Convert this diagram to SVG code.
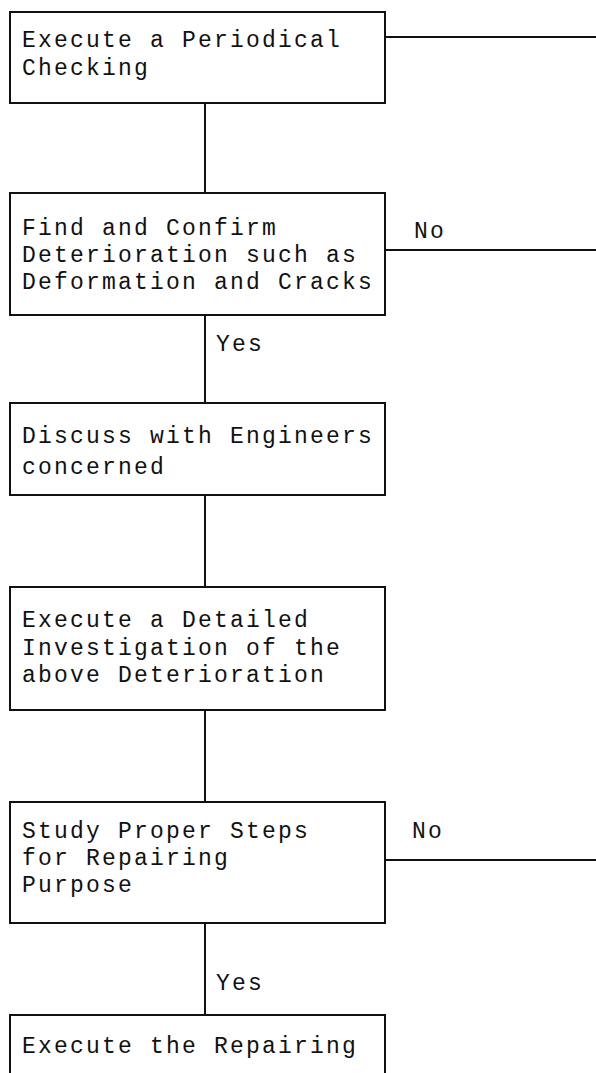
<svg xmlns="http://www.w3.org/2000/svg" width="596" height="1073" viewBox="0 0 596 1073">
  <style>
    .box { fill: #fff; stroke: #111; stroke-width: 2; }
    .wire { fill: none; stroke: #111; stroke-width: 2; }
    .t { font-family: "Liberation Mono", "Courier New", monospace; font-size: 23px; letter-spacing: 2.2px; fill: #111; }
  </style>
  <rect width="596" height="1073" fill="#fff"/>

  <!-- connectors -->
  <g id="connectors">
    <line class="wire" x1="385" y1="37" x2="596" y2="37"/>
    <line class="wire" x1="205" y1="103" x2="205" y2="193"/>
    <line class="wire" x1="385" y1="250" x2="596" y2="250"/>
    <line class="wire" x1="205" y1="315" x2="205" y2="403"/>
    <line class="wire" x1="205" y1="495" x2="205" y2="587"/>
    <line class="wire" x1="205" y1="710" x2="205" y2="802"/>
    <line class="wire" x1="385" y1="860" x2="596" y2="860"/>
    <line class="wire" x1="205" y1="923" x2="205" y2="1015"/>
    <text class="t" x="414" y="238">No</text>
    <text class="t" x="216" y="351">Yes</text>
    <text class="t" x="412" y="838">No</text>
    <text class="t" x="216" y="990">Yes</text>
  </g>

  <g id="periodical-checking">
    <rect class="box" x="10" y="12" width="375" height="91"/>
    <text class="t" x="22" y="47">Execute a Periodical</text>
    <text class="t" x="22" y="75">Checking</text>
  </g>

  <g id="find-deterioration">
    <rect class="box" x="10" y="193" width="375" height="122"/>
    <text class="t" x="22" y="235">Find and Confirm</text>
    <text class="t" x="22" y="262">Deterioration such as</text>
    <text class="t" x="22" y="289">Deformation and Cracks</text>
  </g>

  <g id="discuss-engineers">
    <rect class="box" x="10" y="403" width="375" height="92"/>
    <text class="t" x="22" y="443">Discuss with Engineers</text>
    <text class="t" x="22" y="474">concerned</text>
  </g>

  <g id="detailed-investigation">
    <rect class="box" x="10" y="587" width="375" height="123"/>
    <text class="t" x="22" y="627">Execute a Detailed</text>
    <text class="t" x="22" y="655">Investigation of the</text>
    <text class="t" x="22" y="682">above Deterioration</text>
  </g>

  <g id="study-steps">
    <rect class="box" x="10" y="802" width="375" height="121"/>
    <text class="t" x="22" y="838">Study Proper Steps</text>
    <text class="t" x="22" y="865">for Repairing</text>
    <text class="t" x="22" y="892">Purpose</text>
  </g>

  <g id="execute-repairing">
    <rect class="box" x="10" y="1015" width="375" height="70"/>
    <text class="t" x="22" y="1053">Execute the Repairing</text>
  </g>
</svg>
